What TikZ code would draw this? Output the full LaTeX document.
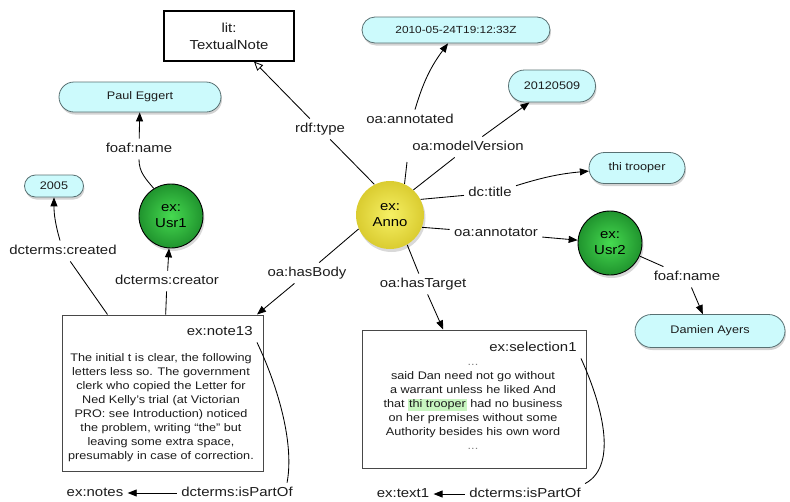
\documentclass[tikz,border=0pt]{standalone}
\usepackage{fontspec}
\setmainfont{Liberation Sans}[FakeStretch=1.15]
\usetikzlibrary{arrows.meta,shadows,shapes.misc,calc}

\definecolor{capfill}{RGB}{204,250,252}
\definecolor{capline}{RGB}{88,112,114}
\definecolor{grnin}{RGB}{70,218,80}
\definecolor{grnout}{RGB}{32,148,46}
\definecolor{ylwin}{RGB}{246,240,100}
\definecolor{ylwout}{RGB}{218,204,48}
\definecolor{ink}{RGB}{28,28,28}
\definecolor{hilite}{RGB}{200,246,192}
\definecolor{boxline}{RGB}{72,72,72}

\tikzset{
  lbl/.style={font=\fontsize{13}{15}\selectfont, text=ink, inner sep=4pt,
    text height=9.5pt, text depth=2.5pt},
  litcap/.style={rounded rectangle, draw=capline, line width=0.8pt, fill=capfill,
    font=\fontsize{11}{13}\selectfont, text=ink, inner sep=2pt,
    drop shadow={shadow xshift=1pt, shadow yshift=-2.5pt, opacity=0.35}},
  resnode/.style={circle, minimum size=#1, inner sep=0pt, align=center,
    font=\fontsize{13}{16}\selectfont, text=black,
    drop shadow={shadow xshift=1.5pt, shadow yshift=-3pt, opacity=0.3}},
  person/.style={resnode=64pt, shade, inner color=grnin, outer color=grnout,
    draw=black, line width=0.9pt},
  annot/.style={resnode=68pt, shade, inner color=ylwin, outer color=ylwout},
  docbox/.style={rectangle, draw=boxline, line width=1pt, fill=white},
  bodytext/.style={align=center, font=\fontsize{11}{14}\selectfont, text=ink},
  arr/.style={-{Triangle[length=9pt,width=7pt]}},
  openarr/.style={-{Triangle[open,length=9pt,width=8pt]}},
  every path/.style={line width=0.85pt}
}

\begin{document}
\begin{tikzpicture}[x=1pt,y=-1pt]
\useasboundingbox (0,0) rectangle (790,501);

% class box
\node[rectangle, draw=black, line width=1.1pt, fill=white, minimum width=130pt,
  minimum height=50pt, align=center, font=\fontsize{13}{17}\selectfont, text=ink]
  (tnote) at (229,36) {lit:\\TextualNote};

% literal values
\node[litcap, minimum width=166pt, minimum height=30pt] (paul) at (140,97) {Paul Eggert};
\node[litcap, minimum width=63pt, minimum height=22pt] (yr) at (54,186) {2005};
\node[litcap, minimum width=192pt, minimum height=26pt, font=\fontsize{10.3}{12}\selectfont]
  (ts) at (456,30) {2010-05-24T19:12:33Z};
\node[litcap, minimum width=91pt, minimum height=32pt] (ver) at (552,86) {20120509};
\node[litcap, minimum width=100pt, minimum height=31pt] (ttl) at (637,168) {thi trooper};
\node[litcap, minimum width=154pt, minimum height=33pt] (dam) at (710,331) {Damien Ayers};

% resources
\node[person] (usr1) at (171,216) {ex:\\Usr1};
\node[annot] (anno) at (390,215) {ex:\\Anno};
\node[person] (usr2) at (610,243) {ex:\\Usr2};

% body and target
\node[docbox, minimum width=201pt, minimum height=156pt] (bodyBox) at (162.5,393) {};
\node[lbl, anchor=east] (lNote13) at (257,332) {ex:note13};
\node[bodytext] (bodyText) at (161,408) {The initial t is clear, the following\\
letters less so. The government\\
clerk who copied the Letter for\\
Ned Kelly’s trial (at Victorian\\
PRO: see Introduction) noticed\\
the problem, writing “the” but\\
leaving some extra space,\\
presumably in case of correction.};

\node[docbox, minimum width=224pt, minimum height=138pt] (selBox) at (474,399) {};
\node[lbl, anchor=east] (lSel1) at (581,348) {ex:selection1};
\node[bodytext] (selText) at (473,407) {{\color{gray}...}\\
said Dan need not go without\\
a warrant unless he liked And\\
that {\fboxsep=0.8pt\colorbox{hilite}{thi trooper}} had no business\\
on her premises without some\\
Authority besides his own word\\
{\color{gray}...}};

% property labels
\node[lbl] (lType) at (320,129) {rdf:type};
\node[lbl] (lAnnotated) at (410,120) {oa:annotated};
\node[lbl] (lVersion) at (468,147) {oa:modelVersion};
\node[lbl] (lTitle) at (490,193) {dc:title};
\node[lbl] (lAnnotator) at (496,233) {oa:annotator};
\node[lbl] (lBody) at (307,273) {oa:hasBody};
\node[lbl] (lTarget) at (423,284) {oa:hasTarget};
\node[lbl] (lName1) at (139,149) {foaf:name};
\node[lbl] (lCreated) at (63,251) {dcterms:created};
\node[lbl] (lCreator) at (167,281) {dcterms:creator};
\node[lbl] (lName2) at (687,277) {foaf:name};
\node[lbl] (lPart1) at (237,493) {dcterms:isPartOf};
\node[lbl] (lNotes) at (95,493) {ex:notes};
\node[lbl] (lPart2) at (525,494) {dcterms:isPartOf};
\node[lbl] (lText1) at (403,494) {ex:text1};

\coordinate (annStub) at (407,162);

% edges from the annotation
\draw (anno.117) -- (lType);
\draw[openarr] (lType) -- (tnote);
\draw (anno.65) -- (annStub);
\draw[arr] ([xshift=5pt]lAnnotated.north) to[bend left=10] ([xshift=-8pt]ts.south);
\draw (anno.47) -- (lVersion);
\draw[arr] (lVersion) -- (ver);
\draw (anno.27) -- (lTitle);
\draw[arr] (lTitle) to[bend left=6] (ttl);
\draw (anno.-21) -- (lAnnotator);
\draw[arr] (lAnnotator) -- (usr2);
\draw (anno.204) -- (lBody);
\draw[arr] (lBody) -- (bodyBox);
\draw (anno.-60) -- (lTarget);
\draw[arr] (lTarget) -- (selBox);

% creators
\draw (usr1.122) to[out=130,in=-90] (lName1);
\draw[arr] (lName1) -- (paul);
\draw (usr2) -- (lName2);
\draw[arr] (lName2) -- (dam);

% body metadata
\draw (bodyBox) -- (lCreated);
\draw[arr] (lCreated) to[bend left=8] (yr);
\draw (bodyBox) -- (lCreator);
\draw[arr] (lCreator) -- (usr1);

% part-of links
\draw (lNote13.south east) .. controls (275,380) and (295,440) .. ([xshift=-10pt]lPart1.north east);
\draw[arr] (lPart1) -- (lNotes);
\draw (lSel1.south east) .. controls (600,400) and (620,465) .. (lPart2.north east);
\draw[arr] (lPart2) -- (lText1);
\end{tikzpicture}
\end{document}
